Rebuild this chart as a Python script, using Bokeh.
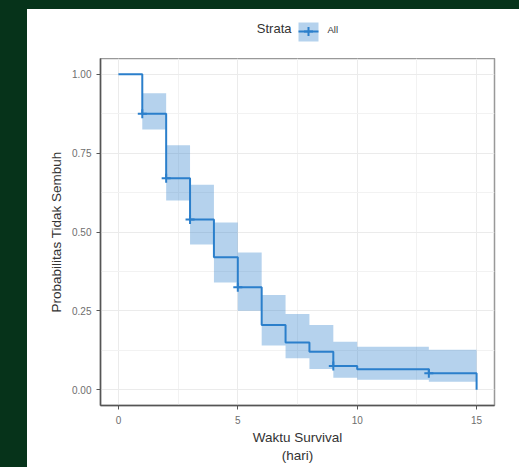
from bokeh.plotting import figure
from bokeh.models import (Div, FixedTicker, ColumnDataSource, Range1d)
from bokeh.layouts import row, column
from bokeh.embed import file_html
from bokeh.resources import INLINE

# ---- data ----
times = [0, 1, 2, 3, 4, 5, 6, 7, 8, 9, 10, 13, 15]
surv = [1.0, 0.875, 0.67, 0.54, 0.42, 0.325, 0.205, 0.15, 0.12, 0.075, 0.065, 0.052, 0.0]
upper = [1.0, 0.94, 0.775, 0.65, 0.53, 0.435, 0.30, 0.24, 0.205, 0.152, 0.136, 0.127, 0.127]
lower = [1.0, 0.825, 0.60, 0.46, 0.34, 0.25, 0.14, 0.10, 0.066, 0.038, 0.032, 0.025, 0.025]
cens_t = [1, 2, 3, 5, 9, 13]
cens_s = [0.875, 0.67, 0.54, 0.325, 0.075, 0.052]
x_ticks = [0, 5, 10, 15]
y_ticks = [0.0, 0.25, 0.5, 0.75, 1.0]
y_tick_labels = ["0.00", "0.25", "0.50", "0.75", "1.00"]
legend_title = "Strata"
strata = ["All"]

BLUE = "#2b7fcb"
DARK = "#06331a"
FONT = "Liberation Sans"

# ---------- main KM plot ----------
p = figure(width=492, height=409, output_backend="svg", toolbar_location=None,
           x_range=(-0.75, 15.75), y_range=(-0.05, 1.05),
           min_border_left=73, min_border_right=25, min_border_top=0,
           min_border_bottom=62, margin=0)
p.background_fill_color = "white"
p.border_fill_color = "white"
p.outline_line_color = "#999999"
p.outline_line_width = 1.5

src = ColumnDataSource(dict(t=times, s=surv, up=upper, lo=lower))
band = p.varea_step(x="t", y1="lo", y2="up", step_mode="after", source=src,
                    fill_color=BLUE, fill_alpha=0.35)
line = p.step(x="t", y="s", mode="after", source=src, line_color=BLUE, line_width=2)
cross = p.scatter(x=cens_t, y=cens_s, marker="cross", size=9, line_color=BLUE,
                  line_width=2)

p.xaxis.ticker = FixedTicker(ticks=x_ticks, minor_ticks=[2.5, 7.5, 12.5])
p.yaxis.ticker = FixedTicker(ticks=y_ticks, minor_ticks=[0.125, 0.375, 0.625, 0.875])
p.yaxis.major_label_overrides = {v: l for v, l in zip(y_ticks, y_tick_labels)}
for g in (p.xgrid, p.ygrid):
    g.grid_line_color = "#ebebeb"
    g.grid_line_width = 1
    g.minor_grid_line_color = "#f2f2f2"
    g.minor_grid_line_width = 1

for ax in (p.xaxis, p.yaxis):
    ax.axis_line_color = "#555555"
    ax.axis_line_width = 1.5
    ax.major_tick_line_color = "#555555"
    ax.major_tick_out = 4
    ax.major_tick_in = 0
    ax.minor_tick_line_color = None
    ax.major_label_text_font = FONT
    ax.major_label_text_font_size = "10px"
    ax.major_label_text_color = "#6e6e6e"
    ax.axis_label_text_font = FONT
    ax.axis_label_text_font_size = "13.5px"
    ax.axis_label_text_font_style = "normal"
    ax.axis_label_text_color = "#333333"

p.xaxis.axis_label = "Waktu Survival\n(hari)"
p.yaxis.axis_label = "Probabilitas Tidak Sembuh"
p.xaxis.major_label_standoff = 6
p.yaxis.major_label_standoff = 5
p.xaxis.axis_label_standoff = 3
p.yaxis.axis_label_standoff = 5

# ---------- legend strip above the plot (frame aligned with main frame, pixel units) ----------
lg = figure(width=492, height=49, output_backend="svg", toolbar_location=None,
            x_range=Range1d(0, 394), y_range=Range1d(0, 49),
            x_axis_type=None, y_axis_type=None,
            min_border_left=73, min_border_right=25, min_border_top=0,
            min_border_bottom=0, margin=0)
lg.outline_line_color = None
lg.background_fill_color = "white"
lg.border_fill_color = "white"
lg.rect(x=[208], y=[26.5], width=20, height=19, fill_color=BLUE, fill_alpha=0.35,
        line_color=None)
lg.segment(x0=[198], y0=[27], x1=[218], y1=[27], line_color=BLUE, line_width=2)
lg.scatter(x=[208], y=[27], marker="cross", size=9, line_color=BLUE, line_width=2)
lg.text(x=[191], y=[30], text=[legend_title], text_align="right",
        text_baseline="middle", text_font_size="13px", text_color="#333333",
        text_font={"value": FONT})
lg.text(x=[227], y=[29.5], text=strata, text_align="left",
        text_baseline="middle", text_font_size="9.5px", text_color="#333333",
        text_font={"value": FONT})

left_strip = Div(width=27, height=467, margin=0, styles={"background-color": DARK})
top_strip = Div(width=492, height=9, margin=0, styles={"background-color": DARK})
inner = column(top_strip, lg, p, spacing=0, margin=0)
inner.styles = {"background-color": "white"}
layout = row(left_strip, inner, spacing=0, margin=0)
layout.styles = {"background-color": "white"}

open("out.html", "w").write(file_html(layout, INLINE))
